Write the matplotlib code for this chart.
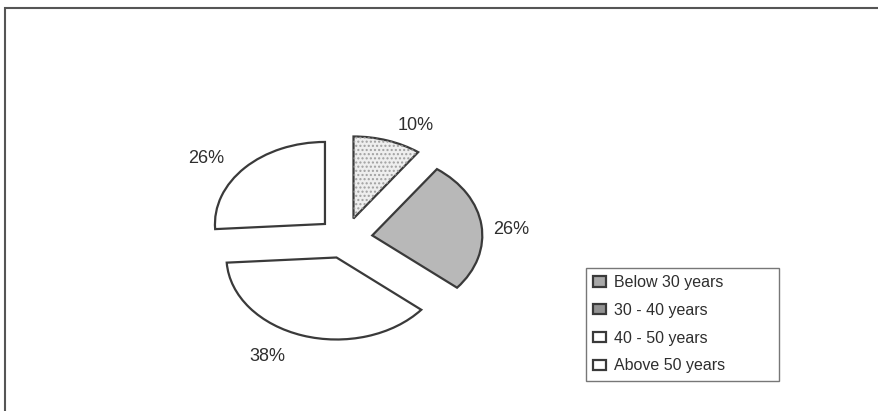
import matplotlib.pyplot as plt
from matplotlib.patches import Wedge, Rectangle

plt.rcParams['font.family'] = ['Liberation Sans', 'DejaVu Sans']

# age groups and their share in percent
age_groups = ["Below 30 years", "30 - 40 years", "40 - 50 years", "Above 50 years"]
shares = [10, 26, 38, 26]
fills = ["#eeeeee", "#b8b8b8", "white", "white"]
swatches = ["#a8a8a8", "#939393", "white", "white"]
explode = [0.25, 0.25, 0.25, 0.25]
# pixel nudges for the percentage labels (x right, y down)
label_nudge = [(19, 6), (0, 7), (-26, 0), (-17, 6)]

fig = plt.figure(figsize=(8.79, 4.11), dpi=100)
fig.patch.set_facecolor("white")
ax = fig.add_axes([0, 0, 1, 1])

wedges, texts, autotexts = ax.pie(shares, colors=fills, explode=explode,
                                  startangle=90, counterclock=False,
                                  autopct="%d%%", pctdistance=1.27,
                                  wedgeprops=dict(edgecolor="#3a3a3a", linewidth=1.6),
                                  textprops=dict(fontsize=13, color="#2e2e2e"))

# stipple on the smallest slice
w = wedges[0]
ax.add_patch(Wedge(w.center, w.r, w.theta1, w.theta2, fill=False,
                   hatch="....", edgecolor="#a0a0a0", linewidth=0, zorder=1.5))

# squashed pie: 1 unit = 110 px across, 82 px down
cx, cy = 345, 238
sx, sy = 110, 82
ax.set_aspect("auto")
ax.set_xlim(-cx / sx, (879 - cx) / sx)
ax.set_ylim(-(411 - cy) / sy, cy / sy)
ax.axis("off")

for t, (dx, dy) in zip(autotexts, label_nudge):
    x, y = t.get_position()
    t.set_position((x + dx / sx, y - dy / sy))

leg = ax.legend(wedges, age_groups, loc="upper left",
                bbox_to_anchor=(586 / 879, 1 - 272 / 411, 193 / 879, 0.01),
                mode="expand",
                fontsize=11.5, frameon=True, fancybox=False,
                handlelength=0.8, handleheight=0.6, handletextpad=0.5,
                labelspacing=0.8, borderpad=0.45, borderaxespad=0)
leg.get_frame().set_edgecolor("#555555")
leg.get_frame().set_linewidth(1.0)
for t in leg.get_texts():
    t.set_color("#2e2e2e")
for h, c in zip(leg.legend_handles, swatches):
    h.set_facecolor(c)
    h.set_edgecolor("#3a3a3a")

# outer frame of the scanned figure (top and left edge visible)
fig.patches.append(Rectangle((5 / 879, -0.1), 1.2, 1.1 - 8 / 411, transform=fig.transFigure,
                             fill=False, edgecolor="#555555", linewidth=1.5))

fig.savefig("out.png", dpi=100)
